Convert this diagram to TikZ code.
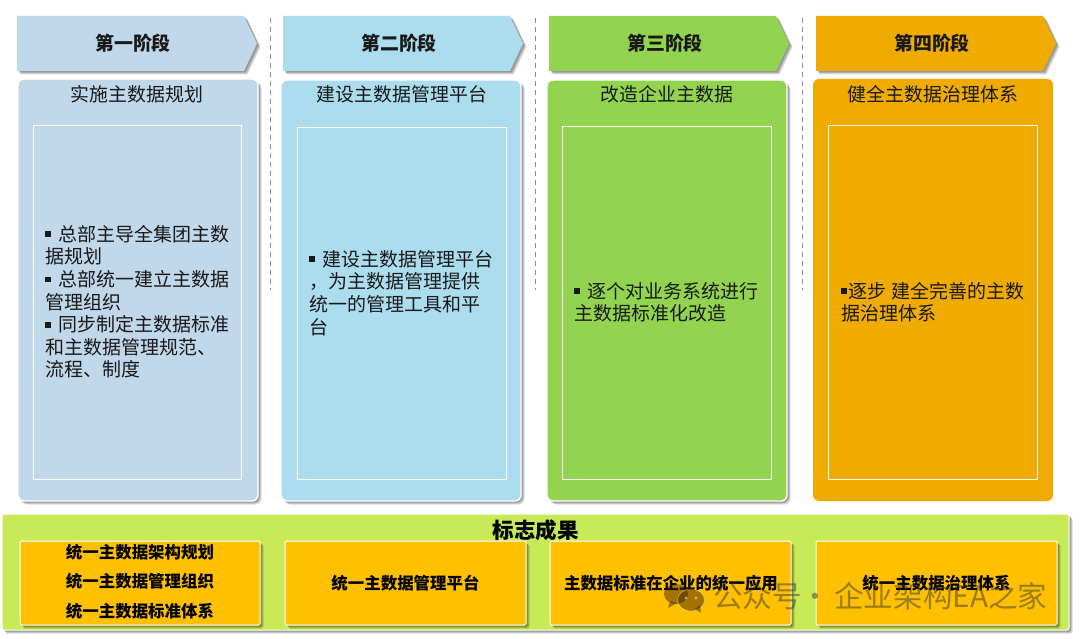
\documentclass[tikz,border=0pt]{standalone}
\usepackage{fontspec}
\setmainfont{Noto Sans CJK SC}
\usetikzlibrary{shadows,calc}
\definecolor{cA}{HTML}{C1D7EA}
\definecolor{cB}{HTML}{ABDDEE}
\definecolor{cC}{HTML}{92D450}
\definecolor{cD}{HTML}{EFAB00}
\definecolor{cBase}{HTML}{C8EA56}
\definecolor{cRes}{HTML}{FFC000}
\newcommand{\bul}{\rule[0.22em]{0.3em}{0.3em}}
\tikzset{
  softshadow/.style={general shadow={fill=black,opacity=.16,shadow xshift=1.5pt,shadow yshift=-1.5pt},general shadow={fill=black,opacity=.16,shadow xshift=2.5pt,shadow yshift=-2.5pt},general shadow={fill=black,opacity=.14,shadow xshift=3.5pt,shadow yshift=-3.5pt}},
  phasebox/.style={rounded corners=6pt,draw=white,line width=1.4pt},
  innerbox/.style={draw=white,line width=1pt},
  headtext/.style={font=\fontsize{18.9pt}{22pt}\selectfont\bfseries,inner sep=0pt,text=black!90},
  titletext/.style={font=\fontsize{18.9pt}{22pt}\selectfont,inner sep=0pt,text=black!90},
  bodytext/.style={font=\fontsize{19pt}{22.6pt}\selectfont,inner sep=0pt,align=left,anchor=north west,text=black!90},
  restext/.style={font=\fontsize{16.45pt}{20pt}\selectfont\bfseries,inner sep=0pt,text=black},
  resbox/.style={fill=cRes,draw=white,line width=1pt,rounded corners=1.5pt,softshadow},
  divider/.style={draw=black!45,line width=1pt,dash pattern=on 5pt off 4pt},
}
\begin{document}
\begin{tikzpicture}[x=1pt,y=-1pt]
\useasboundingbox (0,0) rectangle (1080,639);
\fill[white] (0,0) rectangle (1080,639);
% dividers
\coordinate (d1a) at (270,18); \coordinate (d1b) at (270,290);
\coordinate (d2a) at (535,18); \coordinate (d2b) at (535,290);
\coordinate (d3a) at (802,18); \coordinate (d3b) at (802,290);
\draw[divider] (d1a)--(d1b);
\draw[divider] (d2a)--(d2b);
\draw[divider] (d3a)--(d3b);
% chevrons
\foreach \x/\c/\t/\n in {17/cA/第一阶段/1,283/cB/第二阶段/2,549/cC/第三阶段/3,816/cD/第四阶段/4}{
  \path[fill=\c,softshadow] (\x,16)--(\x+227,16)--(\x+240,43.5)--(\x+227,71)--(\x,71)--cycle;
  \node[headtext] (h\n) at (\x+116,43) {\t};
}
% phase boxes
\path[phasebox,fill=cA,softshadow] (18,79) rectangle (258,501);
\path[phasebox,fill=cB,softshadow] (281,80) rectangle (521,501);
\path[phasebox,fill=cC,softshadow] (547,80) rectangle (787,501);
\path[rounded corners=6pt,fill=cD] (813,79) rectangle (1053,501);
% inner boxes
\node[innerbox,minimum width=208pt,minimum height=354pt,anchor=north west,inner sep=0pt] (i1) at (33,125) {};
\node[innerbox,minimum width=209pt,minimum height=352pt,anchor=north west,inner sep=0pt] (i2) at (297,127) {};
\node[innerbox,minimum width=209pt,minimum height=353pt,anchor=north west,inner sep=0pt] (i3) at (562,126) {};
\node[innerbox,minimum width=209pt,minimum height=354pt,anchor=north west,inner sep=0pt] (i4) at (828,125) {};
% titles
\node[titletext] (t1) at (137,94) {实施主数据规划};
\node[titletext] (t2) at (402,94) {建设主数据管理平台};
\node[titletext] (t3) at (667,94) {改造企业主数据};
\node[titletext] (t4) at (933,94) {健全主数据治理体系};
% bodies
\node[bodytext] (b1) at (45,225) {\bul\hspace{0.42em}总部主导全集团主数\\据规划\\\bul\hspace{0.42em}总部统一建立主数据\\管理组织\\\bul\hspace{0.42em}同步制定主数据标准\\和主数据管理规范、\\流程、制度};
\node[bodytext] (b2) at (309,250) {\bul\hspace{0.42em}建设主数据管理平台\\，为主数据管理提供\\统一的管理工具和平\\台};
\node[bodytext] (b3) at (574,282) {\bul\hspace{0.42em}逐个对业务系统进行\\主数据标准化改造};
\node[bodytext] (b4) at (841,282) {\bul\hspace{0.1em}逐步 建全完善的主数\\据治理体系};
% base
\path[fill=cBase,draw=white,line width=1pt,rounded corners=2pt,softshadow] (2,514) rectangle (1069,630);
\node[font=\fontsize{21.5pt}{24pt}\selectfont\bfseries,inner sep=0pt] (base) at (535.5,530) {标志成果};
\path[resbox] (20,541) rectangle (260,625);
\path[resbox] (285,541) rectangle (526,625);
\path[resbox] (550,541) rectangle (791,625);
\path[resbox] (816,541) rectangle (1057,625);
\node[restext] (r1a) at (140,552) {统一主数据架构规划};
\node[restext] (r1b) at (140,581.5) {统一主数据管理组织};
\node[restext] (r1c) at (140,611) {统一主数据标准体系};
\node[restext] (r2) at (405.5,583) {统一主数据管理平台};
\node[restext] (r3) at (671,583) {主数据标准在企业的统一应用};
\node[restext] (r4) at (936.5,583) {统一主数据治理体系};
% watermark
\begin{scope}[opacity=.48]
\fill[black!75!orange] (676,594) ellipse (12pt and 10pt);
\fill[black!75!orange] (670,601)--(668,608)--(677,603)--cycle;
\path[fill=black!75!orange,draw=white,line width=.6pt] (691,600) ellipse (13.5pt and 11pt);
\fill[black!75!orange] (695,609)--(701,613)--(700,605)--cycle;
\fill[white] (686,598) circle (1.6pt) (696,598) circle (1.6pt);
\node[font=\fontsize{29.6pt}{32pt}\selectfont,inner sep=0pt,anchor=west,text=black!80] (wm) at (713,596) {公众号\hspace{-0.26em} · \hspace{-0.1em}企业架构EA之家};
\end{scope}
\end{tikzpicture}
\end{document}
